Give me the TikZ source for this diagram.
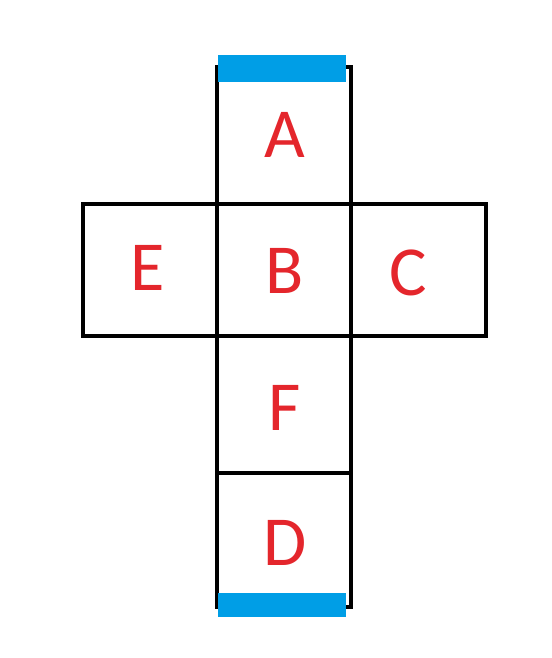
\documentclass[tikz,border=0pt]{standalone}
\usepackage{fontspec}
\setsansfont{Carlito}
\definecolor{netred}{RGB}{228,38,44}
\definecolor{netblue}{RGB}{0,158,230}

\begin{document}
\begin{tikzpicture}[x=0.015cm, y=-0.015cm,
        face/.style={text=netred, font=\sffamily\fontsize{30}{30}\selectfont},
        edge/.style={line width=1.7pt}]
        \useasboundingbox (0,0) rectangle (552,658);

        % Column A-B-F-D
        \draw[edge] (217,67) rectangle (351,607);
        \draw[edge] (217,473) -- (351,473);

        % Row E-B-C
        \draw[edge] (83,204) rectangle (486,336);

        % Blue bars
        \fill[netblue] (218,55) rectangle (346,82);
        \fill[netblue] (218,593) rectangle (346,617);

        % Faces
        \node[face] (A) at (285,135) {A};
        \node[face] (E) at (148,268) {E};
        \node[face] (B) at (285,271) {B};
        \node[face] (C) at (408,273) {C};
        \node[face] (F) at (285,408) {F};
        \node[face] (D) at (285,543) {D};
    \end{tikzpicture}
\end{document}
